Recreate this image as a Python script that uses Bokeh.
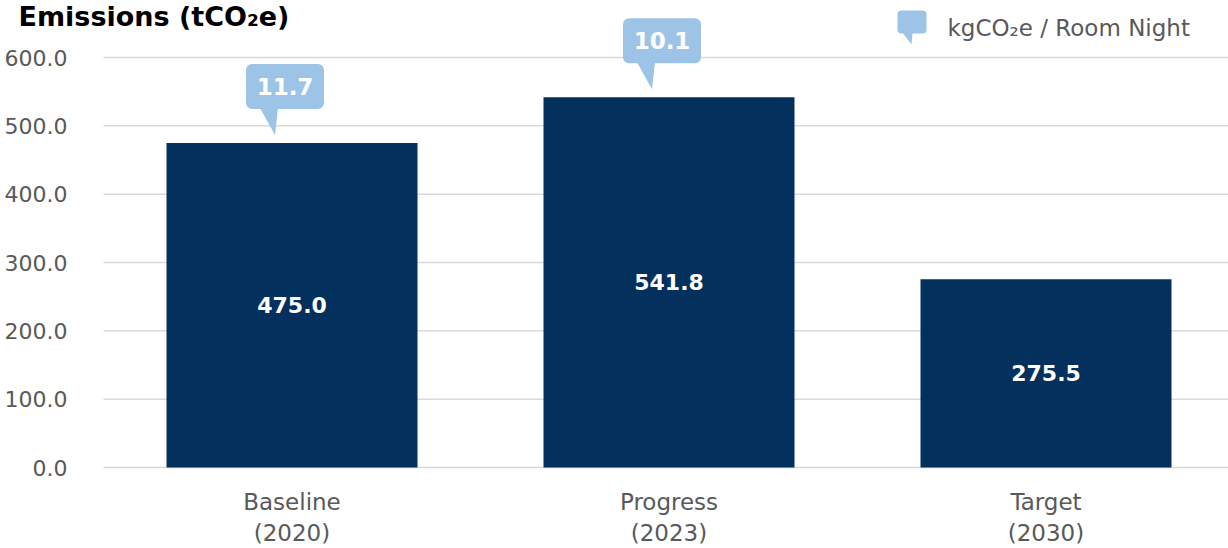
from bokeh.plotting import figure
from bokeh.models import Range1d, FixedTicker, NumeralTickFormatter, Label, ColumnDataSource
from bokeh.core.properties import value
from bokeh.embed import file_html
from bokeh.resources import INLINE

# ---------------- data ----------------
categories = ["Baseline\n(2020)", "Progress\n(2023)", "Target\n(2030)"]
emissions = [475.0, 541.8, 275.5]          # tCO2e
intensity = [11.7, 10.1, None]              # kgCO2e / Room Night
y_ticks = [0, 100, 200, 300, 400, 500, 600]
title_text = "Emissions (tCO\u2082e)"
legend_text = "kgCO\u2082e / Room Night"

# ---------------- styling / layout ----------------
FONT = "DejaVu Sans"
BAR_COLOR = "#03305C"
BUBBLE_COLOR = "#9DC3E6"
TEXT_GRAY = "#595959"
GRID_GRAY = "#D9D9D9"

W, H = 1228, 548
AX_X = 103           # canvas x of the value axis
AX_Y = 467           # canvas y of the category axis (value 0)
PX_PER_CAT = 377.0
PX_PER_Y = 410.0 / 600.0


def cx(canvas_x):
    return (canvas_x - AX_X) / PX_PER_CAT


def cy(canvas_y):
    return (AX_Y - canvas_y) / PX_PER_Y


def dx(px):
    return px / PX_PER_CAT


def dy(px):
    return px / PX_PER_Y


p = figure(width=W, height=H, output_backend="svg", toolbar_location=None,
           x_range=Range1d(cx(0), cx(W)), y_range=Range1d(cy(H), cy(0)),
           min_border=0)
p.outline_line_color = None
p.background_fill_color = "white"
p.border_fill_color = "white"

xs = [i + 0.5 for i in range(len(categories))]

# horizontal grid lines
p.segment(x0=[0] * len(y_ticks), x1=[cx(W)] * len(y_ticks), y0=y_ticks, y1=y_ticks,
          line_color=GRID_GRAY, line_width=1.5)

# bars
src = ColumnDataSource(dict(x=xs, top=emissions,
                            mid=[v / 2 for v in emissions],
                            lbl=[f"{v:.1f}" for v in emissions]))
p.vbar(x="x", top="top", bottom=0, width=dx(251), source=src,
       fill_color=BAR_COLOR, line_color=None)
p.text(x="x", y="mid", text="lbl", source=src, text_color="white",
       text_font=value(FONT), text_font_style="bold", text_font_size="22px",
       text_align="center", text_baseline="middle")

# speech bubbles for intensity
bl, br, bt, bb, tx, ty, tt = [], [], [], [], [], [], []
tail_xs, tail_ys = [], []
for x, top, val in zip(xs, emissions, intensity):
    if val is None:
        continue
    tip_y = top + dy(8)
    tip_x = x - dx(17)
    rb = tip_y + dy(26)
    rt = rb + dy(45)
    bl.append(x - dx(46)); br.append(x + dx(32)); bb.append(rb); bt.append(rt)
    tail_xs.append([x - dx(32), x - dx(14), tip_x])
    tail_ys.append([rb + dy(1), rb + dy(1), tip_y])
    tx.append(x - dx(7)); ty.append((rb + rt) / 2); tt.append(f"{val:.1f}")

p.quad(left=bl, right=br, top=bt, bottom=bb, fill_color=BUBBLE_COLOR,
       line_color=None, border_radius=6)
p.patches(xs=tail_xs, ys=tail_ys, fill_color=BUBBLE_COLOR, line_color=None)
p.text(x=tx, y=ty, text=tt, text_color="white", text_font=value(FONT),
       text_font_style="bold", text_font_size="23px",
       text_align="center", text_baseline="middle")

# legend icon (speech bubble) + text
p.quad(left=[cx(897)], right=[cx(926)], top=[cy(10)], bottom=[cy(33)],
       fill_color=BUBBLE_COLOR, line_color=None, border_radius=4)
p.patches(xs=[[cx(902), cx(912), cx(911)]], ys=[[cy(32), cy(32), cy(44)]],
          fill_color=BUBBLE_COLOR, line_color=None)
p.add_layout(Label(x=cx(947), y=cy(27), text=legend_text, text_color=TEXT_GRAY,
                   text_font=FONT, text_font_size="23px",
                   text_align="left", text_baseline="alphabetic"))

# title
p.add_layout(Label(x=cx(18), y=cy(0), text=title_text, text_color="black",
                   text_font=FONT, text_font_style="bold", text_font_size="27px",
                   text_align="left", text_baseline="top"))

# axes (drawn at fixed data locations)
p.xaxis.fixed_location = 0
p.xaxis.ticker = FixedTicker(ticks=xs)
p.xaxis.major_label_overrides = {x: c for x, c in zip(xs, categories)}
p.xaxis.axis_line_color = None
p.xaxis.major_tick_line_color = None
p.xaxis.minor_tick_line_color = None
p.xaxis.major_label_text_font = FONT
p.xaxis.major_label_text_font_size = "23px"
p.xaxis.major_label_text_color = TEXT_GRAY
p.xaxis.major_label_standoff = 15

p.yaxis.fixed_location = 0
p.yaxis.ticker = FixedTicker(ticks=y_ticks)
p.yaxis.formatter = NumeralTickFormatter(format="0.0")
p.yaxis.axis_line_color = None
p.yaxis.major_tick_line_color = None
p.yaxis.minor_tick_line_color = None
p.yaxis.major_label_text_font = FONT
p.yaxis.major_label_text_font_size = "22px"
p.yaxis.major_label_text_color = TEXT_GRAY
p.yaxis.major_label_standoff = 30

p.xgrid.grid_line_color = None
p.ygrid.grid_line_color = None

open("out.html", "w").write(file_html(p, INLINE))
